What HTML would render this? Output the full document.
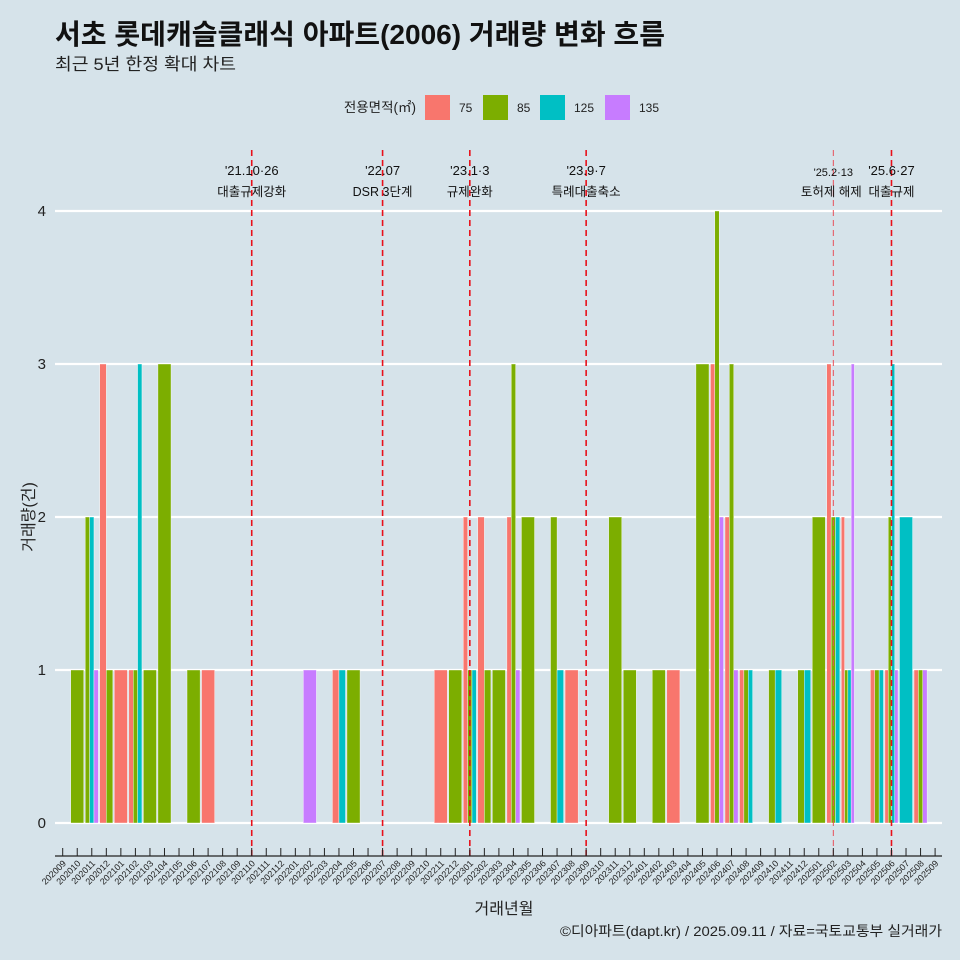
<!DOCTYPE html>
<html><head><meta charset="utf-8"><style>
html,body{margin:0;padding:0;background:#d6e3ea;}
svg{display:block;font-family:"Liberation Sans","Noto Sans CJK KR",sans-serif;}
</style></head><body>
<svg id="chart" width="960" height="960" viewBox="0 0 960 960">
<rect x="0" y="0" width="960" height="960" fill="#d6e3ea"/>
<text x="55" y="44" font-size="28" font-weight="bold" fill="#111" textLength="610" lengthAdjust="spacingAndGlyphs">서초 롯데캐슬클래식 아파트(2006) 거래량 변화 흐름</text>
<text x="55" y="70" font-size="17" fill="#222" textLength="181" lengthAdjust="spacingAndGlyphs">최근 5년 한정 확대 차트</text>
<g>
<text x="416" y="112" font-size="13.5" text-anchor="end" fill="#222">전용면적(㎡)</text>
<rect x="425" y="95" width="25" height="25" fill="#f8766d"/>
<text x="459" y="112" font-size="12" fill="#222">75</text>
<rect x="483" y="95" width="25" height="25" fill="#7cae00"/>
<text x="517" y="112" font-size="12" fill="#222">85</text>
<rect x="540" y="95" width="25" height="25" fill="#00bfc4"/>
<text x="574" y="112" font-size="12" fill="#222">125</text>
<rect x="605" y="95" width="25" height="25" fill="#c77cff"/>
<text x="639" y="112" font-size="12" fill="#222">135</text>
</g>
<g id="grid"></g>
<g id="bars"></g>
<g id="vlines"></g>
<g id="axes"></g>
<text x="504" y="914" font-size="16" text-anchor="middle" fill="#222">거래년월</text>
<text transform="translate(34,517) rotate(-90)" font-size="16" text-anchor="middle" fill="#222">거래량(건)</text>
<text x="942" y="936" font-size="14" text-anchor="end" fill="#222" textLength="382" lengthAdjust="spacingAndGlyphs">©디아파트(dapt.kr) / 2025.09.11 / 자료=국토교통부 실거래가</text>
</svg>
<script>
const months = [];
for (let y = 2020, m = 9; !(y === 2025 && m === 10); ) { months.push(String(y) + String(m).padStart(2, '0')); m++; if (m > 12) { m = 1; y++; } }
const sizes = ['75', '85', '125', '135'];
const colors = ['#f8766d', '#7cae00', '#00bfc4', '#c77cff'];
// each record: month, size, count
const recMonths = ['202010','202011','202011','202011','202012','202012','202101','202102','202102','202102','202103','202104','202106','202107','202202','202204','202204','202205','202211','202212','202301','202301','202301','202302','202302','202303','202304','202304','202304','202305','202307','202307','202308','202311','202312','202402','202403','202405','202406','202406','202406','202407','202407','202407','202408','202408','202408','202410','202410','202412','202412','202501','202502','202502','202502','202503','202503','202503','202503','202505','202505','202505','202506','202506','202506','202506','202507','202508','202508','202508'];
const recSizes = ['85','85','125','135','75','85','75','75','85','125','85','85','85','75','135','75','125','85','75','85','75','85','125','75','85','85','75','85','135','85','85','125','75','85','85','85','75','85','75','85','135','75','85','135','75','85','125','85','125','85','125','85','75','85','125','75','85','125','135','75','85','125','75','85','125','135','125','75','85','135'];
const recCounts = [1,2,2,1,3,1,1,1,1,3,1,3,1,1,1,1,1,1,1,1,2,1,1,2,1,1,2,3,1,2,2,1,1,2,1,1,1,3,3,4,2,2,3,1,1,1,1,1,1,1,1,2,3,2,2,2,1,1,3,1,1,1,1,2,3,1,2,1,1,1];
const yTicks = [0, 1, 2, 3, 4];
const eventMonths = ['202110', '202207', '202301', '202309', '202502', '202506'];
const eventDates = ["'21.10·26", "'22.07", "'23.1·3", "'23.9·7", "'25.2·13", "'25.6·27"];
const eventLabels = ['대출규제강화', 'DSR 3단계', '규제완화', '특례대출축소', '토허제 해제', '대출규제'];

const NS = 'http://www.w3.org/2000/svg';
const X0 = 62.7, STEP = 14.54, Y0 = 823, YU = 153;
const xPos = m => X0 + STEP * months.indexOf(m);
const yPos = v => Y0 - YU * v;
function mk(tag, attrs, parent) { const e = document.createElementNS(NS, tag); for (const k in attrs) e.setAttribute(k, attrs[k]); parent.appendChild(e); return e; }

const grid = document.getElementById('grid');
yTicks.forEach(t => {
  const l = mk('line', {x1: 55, x2: 942, y1: yPos(t), y2: yPos(t), stroke: '#fff', 'stroke-width': 2.2}, grid);
  
  
  const tx = mk('text', {x: 46, y: yPos(t) + 5, 'font-size': 15, 'text-anchor': 'end', fill: '#222'}, grid);
  tx.textContent = t;
  
  
});

const bars = document.getElementById('bars');
const W = STEP * 0.9;
months.forEach(m => {
  const idx = [];
  recMonths.forEach((rm, i) => { if (rm === m) idx.push(i); });
  idx.sort((a, b) => sizes.indexOf(recSizes[a]) - sizes.indexOf(recSizes[b]));
  const n = idx.length; if (!n) return;
  const w = W / n, left = xPos(m) - W / 2;
  idx.forEach((i, k) => {
    const r = mk('rect', {x: left + k * w, y: yPos(recCounts[i]), width: w, height: YU * recCounts[i], fill: colors[sizes.indexOf(recSizes[i])], stroke: '#fff', 'stroke-width': 0.4}, bars);
    
    
  });
});

const vl = document.getElementById('vlines');
eventMonths.forEach((m, i) => {
  const x = xPos(m);
  const thin = m === '202502';
  const l = mk('line', {x1: x, x2: x, y1: 150, y2: 856, stroke: thin ? '#e8505a' : '#e8101a', 'stroke-width': thin ? 1 : 1.6, 'stroke-dasharray': '6,4'}, vl);
  
  
  const d = mk('text', {x: x, y: thin ? 176 : 175, 'font-size': thin ? 11 : 13, 'text-anchor': 'middle', fill: '#111'}, vl);
  d.textContent = eventDates[i];
  
  
  const t = mk('text', {x: thin ? x - 2 : x, y: 196, 'font-size': 12.5, 'text-anchor': 'middle', fill: '#111'}, vl);
  t.textContent = eventLabels[i];
  
  
});

const ax = document.getElementById('axes');
const al = mk('line', {x1: 55, x2: 942, y1: 856, y2: 856, stroke: '#222', 'stroke-width': 1.2}, ax);


months.forEach(m => {
  const x = xPos(m);
  const tk = mk('line', {x1: x, x2: x, y1: 848, y2: 856, stroke: '#222', 'stroke-width': 1}, ax);
  
  
  const tx = mk('text', {x: x + 4, y: 864, 'font-size': 9, 'text-anchor': 'end', fill: '#222', transform: 'rotate(-45 ' + (x + 4) + ' 864)'}, ax);
  tx.textContent = m;
  
  
});
</script>
</body></html>
